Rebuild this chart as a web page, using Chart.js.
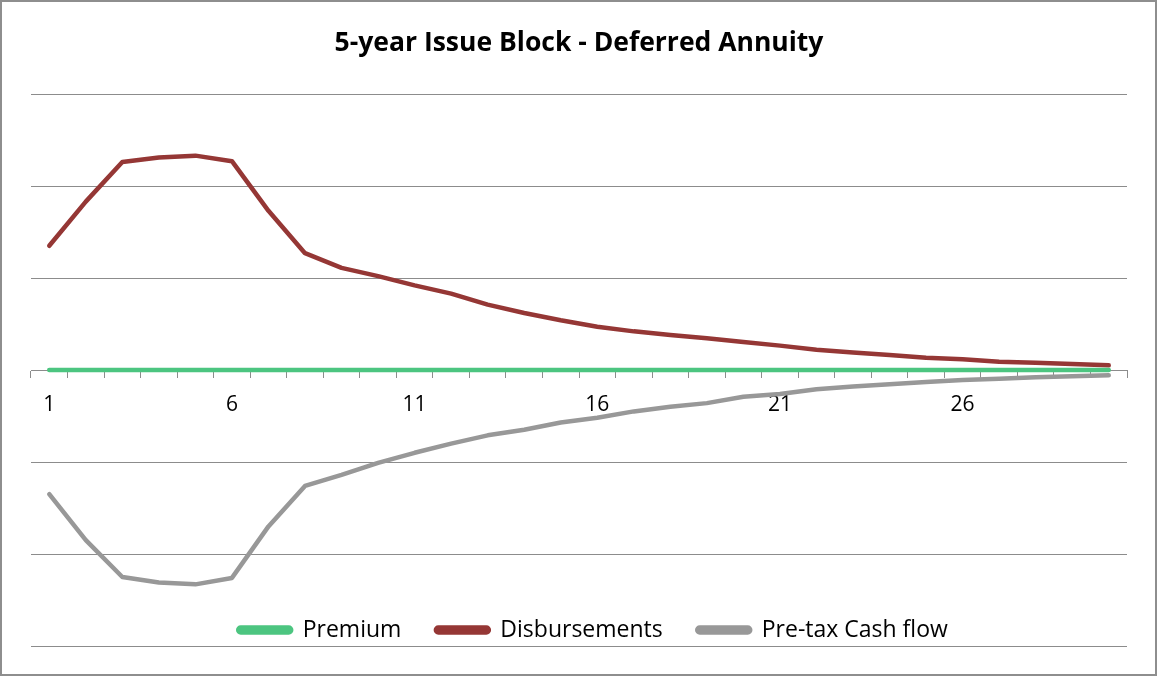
<!DOCTYPE html>
<html>
<head>
<meta charset="utf-8">
<script src="https://cdn.jsdelivr.net/npm/chart.js@4.4.1/dist/chart.umd.min.js"></script>
<style>
  html, body { margin: 0; padding: 0; background: #fff; }
  #frame { position: absolute; left: 0; top: 0; width: 1157px; height: 676px; box-sizing: border-box; border: 2px solid #8e8e8e; background: #fff; }
  #frame canvas { display: block; }
</style>
</head>
<body>
<div id="frame"><canvas id="annuityChart" width="1153" height="672"></canvas></div>
<script>
const years = [1, 2, 3, 4, 5, 6, 7, 8, 9, 10, 11, 12, 13, 14, 15, 16, 17, 18, 19, 20, 21, 22, 23, 24, 25, 26, 27, 28, 29, 30];
const premium = [0, 0, 0, 0, 0, 0, 0, 0, 0, 0, 0, 0, 0, 0, 0, 0, 0, 0, 0, 0, 0, 0, 0, 0, 0, 0, 0, 0, 0, 0];
const disbursements = [135, 183, 226, 231, 233, 227, 173, 127, 111, 102, 92, 83, 71, 62, 54, 47, 42, 38, 34.5, 30.5, 26.5, 22, 19, 16.3, 13.4, 11.6, 9, 7.9, 6.5, 5.1];
const preTaxCashFlow = [-135, -185, -225, -231, -233, -226, -170, -126, -114, -101, -90, -80, -71, -65, -57, -52, -45, -40, -36, -29, -26, -21, -18, -15.6, -13, -10.9, -9.4, -8, -6.9, -5.8];
const yMin = -300, yMax = 300, yStep = 100;
const labelEvery = 5;

const FONT = "Open Sans";
const gridGray = "#8c8c8c";
const legendFontSize = 23;
const legendPad = 34.5;
const legendMidY = 628;
const legendShift = 14;

// legend sits over the bottom of the plot, like the Excel original
const legendOverlay = {
  id: "legendOverlay",
  beforeLayout(chart) {
    const lg = chart.legend;
    if (lg && !lg._overlay) {
      const fit = lg.fit.bind(lg);
      lg.fit = function () { fit(); this.height = 0; };
      lg._overlay = true;
    }
  },
  afterLayout(chart) {
    const lg = chart.legend;
    lg.top = legendMidY - legendPad - legendFontSize / 2;
    lg.left += legendShift;
    lg.right += legendShift;
  }
};

new Chart(document.getElementById("annuityChart"), {
  type: "line",
  data: {
    labels: years,
    datasets: [
      { label: "Premium", data: premium, borderColor: "#4cc580", backgroundColor: "#4cc580" },
      { label: "Disbursements", data: disbursements, borderColor: "#953735", backgroundColor: "#953735" },
      { label: "Pre-tax Cash flow", data: preTaxCashFlow, borderColor: "#989898", backgroundColor: "#989898" }
    ]
  },
  options: {
    responsive: false,
    animation: false,
    devicePixelRatio: 1,
    layout: { padding: { left: 29, right: 28, top: 0, bottom: 28 } },
    elements: {
      line: { borderWidth: 4.5, tension: 0, borderCapStyle: "round", borderJoinStyle: "round" },
      point: { radius: 0, hoverRadius: 0 }
    },
    scales: {
      x: {
        type: "category",
        position: { y: 0 },
        offset: true,
        grid: { drawOnChartArea: false, drawTicks: true, tickLength: 7, offset: true, color: gridGray },
        border: { display: true, color: gridGray, width: 1 },
        ticks: {
          autoSkip: false, maxRotation: 0, padding: 15, color: "#000",
          font: { family: FONT, size: 21 },
          callback: (v, i) => (i % labelEvery === 0 ? years[i] : "")
        }
      },
      y: {
        min: yMin, max: yMax,
        ticks: { display: false, stepSize: yStep },
        grid: { color: gridGray, drawTicks: false },
        border: { display: false }
      }
    },
    plugins: {
      title: {
        display: true,
        text: "5-year Issue Block - Deferred Annuity",
        color: "#000",
        font: { family: FONT, size: 26.5, weight: "bold" },
        padding: { top: 26, bottom: 34.2 }
      },
      legend: {
        position: "bottom",
        labels: {
          boxWidth: 53, boxHeight: 5, padding: legendPad, color: "#000",
          useBorderRadius: true, borderRadius: 2.5,
          font: { family: FONT, size: legendFontSize }
        }
      },
      tooltip: { enabled: false }
    }
  },
  plugins: [legendOverlay]
});
</script>
</body>
</html>
